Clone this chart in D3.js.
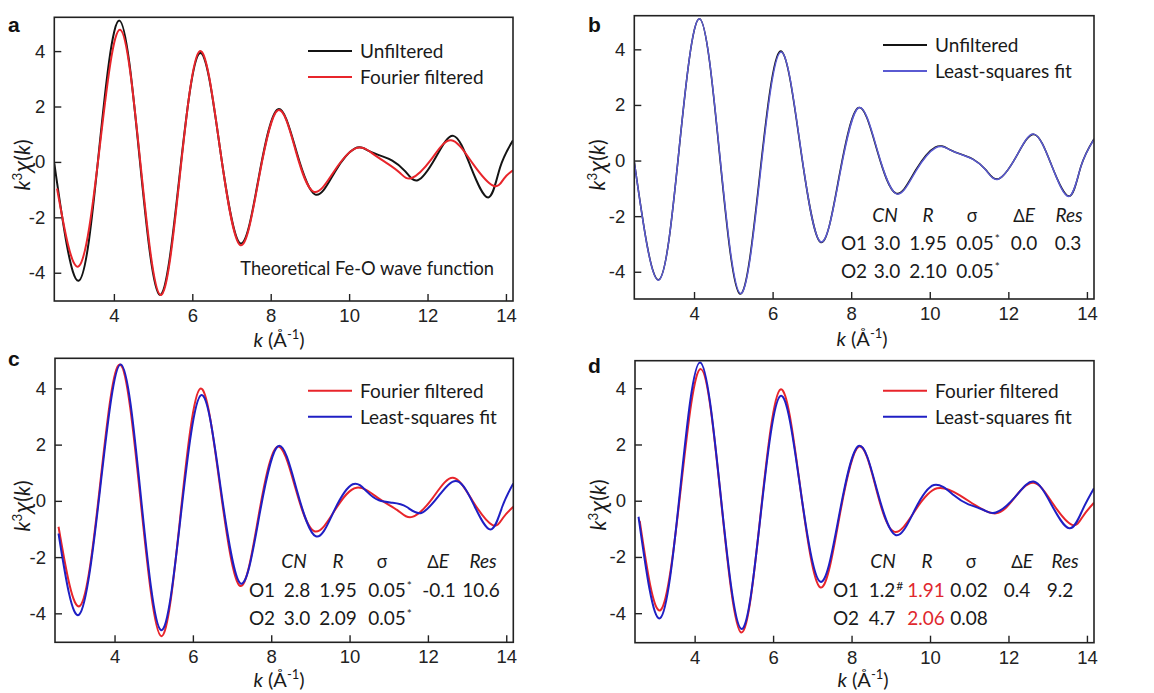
<!DOCTYPE html>
<html><head><meta charset="utf-8">
<script src="https://cdn.jsdelivr.net/npm/d3@7"></script>
<style>
body{margin:0;background:#fff;}
svg{display:block;}
</style></head><body>
<svg id="chart" width="1154" height="693"></svg>
<script>
// ---------------- data ----------------
const kDomain = [2.48, 14.18];
const kTicks = [4, 6, 8, 10, 12, 14];
const yTicks = [-4, -2, 0, 2, 4];

// panel a / b : unfiltered theoretical Fe-O wave function  [k, k^3 chi(k)]
const unfiltered = [[2.48,-0.05],[3.1,-4.29],[3.62,0.4],[4.14,5.1],[4.655,0.15],[5.17,-4.8],[5.68,-0.43],[6.19,3.93],[6.705,0.5],[7.22,-2.94],[7.7,-0.52],[8.18,1.9],[8.66,0.36],[9.14,-1.18],[9.64,-0.35],[10.14,0.48],[10.5,0.4],[10.85,0.2],[11.1,0.05],[11.42,-0.32],[11.75,-0.66],[12.2,0.14],[12.66,0.94],[13.1,-0.17],[13.55,-1.28],[13.85,-0.2],[14.18,0.78]];
// panel a : Fourier filtered
const filteredA = [[2.55,-0.96],[3.11,-3.76],[3.635,0.5],[4.16,4.77],[4.675,-0.02],[5.19,-4.8],[5.69,-0.4],[6.19,4.0],[6.705,0.5],[7.22,-3.0],[7.7,-0.57],[8.18,1.86],[8.64,0.39],[9.1,-1.08],[9.64,-0.29],[10.18,0.5],[10.6,0.3],[10.98,-0.06],[11.3,-0.4],[11.6,-0.58],[12.1,0.1],[12.6,0.78],[13.15,-0.05],[13.68,-0.86],[13.95,-0.6],[14.18,-0.3]];
// panel b : least-squares fit
const fitB = [[2.48,-0.06],[3.1,-4.3],[3.62,0.4],[4.14,5.1],[4.66,0.15],[5.18,-4.78],[5.69,-0.44],[6.2,3.9],[6.71,0.49],[7.22,-2.92],[7.71,-0.51],[8.19,1.9],[8.67,0.35],[9.15,-1.2],[9.65,-0.37],[10.15,0.46],[10.5,0.39],[10.85,0.19],[11.1,0.04],[11.42,-0.33],[11.74,-0.67],[12.2,0.14],[12.65,0.95],[13.1,-0.17],[13.54,-1.29],[13.85,-0.2],[14.18,0.76]];
// panel c
const filteredC = [[2.57,-0.92],[3.12,-3.73],[3.63,0.56],[4.14,4.85],[4.665,0.02],[5.19,-4.81],[5.69,-0.41],[6.19,3.99],[6.695,0.49],[7.2,-3.02],[7.675,-0.55],[8.15,1.92],[8.625,0.42],[9.1,-1.08],[9.64,-0.3],[10.18,0.47],[10.75,0.08],[11.22,-0.33],[11.6,-0.57],[12.12,0.1],[12.64,0.82],[13.15,-0.02],[13.65,-0.86],[13.92,-0.6],[14.18,-0.21]];
const fitC = [[2.57,-1.16],[3.1,-4.04],[3.63,0.4],[4.16,4.85],[4.675,0.12],[5.19,-4.6],[5.7,-0.42],[6.21,3.76],[6.715,0.41],[7.22,-2.94],[7.7,-0.5],[8.18,1.95],[8.66,0.35],[9.14,-1.26],[9.61,-0.34],[10.08,0.59],[10.45,0.32],[10.75,0.02],[11.1,-0.07],[11.45,-0.21],[11.83,-0.43],[12.29,0.2],[12.75,0.7],[13.18,-0.16],[13.6,-1.02],[13.9,-0.2],[14.18,0.62]];
// panel d
const filteredD = [[2.6,-0.72],[3.13,-3.89],[3.645,0.4],[4.16,4.68],[4.675,0.0],[5.19,-4.69],[5.69,-0.37],[6.19,3.96],[6.695,0.44],[7.2,-3.08],[7.69,-0.58],[8.18,1.92],[8.63,0.41],[9.08,-1.1],[9.63,-0.33],[10.18,0.44],[10.75,0.2],[11.14,-0.15],[11.68,-0.45],[12.14,0.08],[12.64,0.64],[13.13,-0.1],[13.62,-0.86],[13.9,-0.55],[14.18,-0.07]];
const fitD = [[2.57,-0.57],[3.12,-4.18],[3.63,0.37],[4.14,4.92],[4.665,0.18],[5.19,-4.56],[5.69,-0.42],[6.19,3.73],[6.695,0.43],[7.2,-2.88],[7.69,-0.47],[8.18,1.95],[8.65,0.37],[9.12,-1.22],[9.61,-0.33],[10.1,0.56],[10.6,0.2],[10.98,-0.13],[11.37,-0.33],[11.68,-0.42],[12.16,0.12],[12.64,0.68],[13.1,-0.15],[13.55,-0.98],[13.88,-0.35],[14.18,0.44]];

// fit tables
const tableHeaders = ["CN", "R", "σ", "ΔE", "Res"];
const tableB = [["O1","3.0","1.95","0.05*","0.0","0.3"],["O2","3.0","2.10","0.05*","",""]];
const tableC = [["O1","2.8","1.95","0.05*","-0.1","10.6"],["O2","3.0","2.09","0.05*","",""]];
const tableD = [["O1","1.2#","1.91","0.02","0.4","9.2"],["O2","4.7","2.06","0.08","",""]];

// ---------------- layout / style ----------------
const C_BLACK = "#141414", C_RED = "#e8252b", C_BLUE = "#1f1fc4", C_BLUE_B = "#5a5ad2";
const TXT = "Lato, 'Noto Sans', sans-serif";
const TICKF = "'Liberation Sans', Arial, sans-serif";
const FS = 19;

const panels = [
  {id:"a", l:54.3, t:17.3, r:513, b:301, yDomain:[-5.02,5.22],
   series:[{data:unfiltered,color:C_BLACK,w:2},{data:filteredA,color:C_RED,w:2}],
   legend:[["Unfiltered",C_BLACK],["Fourier filtered",C_RED]], legX:[308,352,360], legY:[51,77],
   letter:[8,32], ylab:[30,165], xlab:[279,347]},
  {id:"b", l:634.3, t:15.7, r:1094, b:299, yDomain:[-4.98,5.21],
   series:[{data:unfiltered,color:C_BLACK,w:1.6},{data:fitB,color:C_BLUE_B,w:1.5}],
   legend:[["Unfiltered",C_BLACK],["Least-squares fit",C_BLUE_B]], legX:[883,927,935], legY:[45,71],
   letter:[588,32], ylab:[605,165], xlab:[862,346],
   table:tableB, cols:[854,887,928,975,1024,1068], hdrX:[885,928,972,1024,1069], rowsY:[222,250,278]},
  {id:"c", l:55, t:358.3, r:513.3, b:642.3, yDomain:[-5.03,5.07],
   series:[{data:filteredC,color:C_RED,w:2},{data:fitC,color:C_BLUE,w:2}],
   legend:[["Fourier filtered",C_RED],["Least-squares fit",C_BLUE]], legX:[308,352,360], legY:[390.7,416.7],
   letter:[8,366], ylab:[30,506], xlab:[279,687],
   table:tableC, cols:[262,297,338,387,439,481], hdrX:[294,338,382,438,483], rowsY:[568,597,625]},
  {id:"d", l:635, t:360.7, r:1094, b:642.7, yDomain:[-5.05,4.98],
   series:[{data:filteredD,color:C_RED,w:2},{data:fitD,color:C_BLUE,w:2}],
   legend:[["Fourier filtered",C_RED],["Least-squares fit",C_BLUE]], legX:[883,927,935], legY:[390.7,416.7],
   letter:[588,373], ylab:[606,505], xlab:[863,687],
   table:tableD, cols:[846,882,926,969,1017,1060], hdrX:[883,927,971,1022,1065], rowsY:[568,597,625],
   redCells:["1.91","2.06"]}
];

const svg = d3.select("#chart");
const defs = svg.append("defs");

panels.forEach(p => {
  const g = svg.append("g");
  const x = d3.scaleLinear().domain(kDomain).range([p.l, p.r]);
  const y = d3.scaleLinear().domain(p.yDomain).range([p.b, p.t]);

  defs.append("clipPath").attr("id", "clip-" + p.id)
    .append("rect").attr("x", p.l).attr("y", p.t).attr("width", p.r - p.l).attr("height", p.b - p.t);

  const line = d3.line().x(d => x(d[0])).y(d => y(d[1])).curve(d3.curveNatural);
  p.series.forEach(s => {
    g.append("path").attr("d", line(s.data)).attr("fill", "none")
      .attr("stroke", s.color).attr("stroke-width", s.w)
      .attr("stroke-linejoin", "round").attr("clip-path", `url(#clip-${p.id})`);
  });

  // axes (inward ticks)
  const xa = g.append("g").attr("transform", `translate(0,${p.b})`)
    .call(d3.axisBottom(x).tickValues(kTicks).tickSizeInner(-7).tickSizeOuter(0).tickPadding(8).tickFormat(d3.format("d")));
  const ya = g.append("g").attr("transform", `translate(${p.l},0)`)
    .call(d3.axisLeft(y).tickValues(yTicks).tickSizeInner(-7).tickSizeOuter(0).tickPadding(9).tickFormat(d => d < 0 ? "-" + Math.abs(d) : d));
  [xa, ya].forEach(a => {
    a.select(".domain").remove();
    a.selectAll(".tick line").attr("stroke", "#222").attr("stroke-width", 1.4);
    a.selectAll(".tick text").attr("font-family", TICKF).attr("font-size", 18.5).attr("fill", "#222");
  });

  // frame
  g.append("rect").attr("x", p.l).attr("y", p.t).attr("width", p.r - p.l).attr("height", p.b - p.t)
    .attr("fill", "none").attr("stroke", "#222").attr("stroke-width", 1.6);

  // panel letter
  g.append("text").attr("x", p.letter[0]).attr("y", p.letter[1]).text(p.id)
    .attr("font-family", "'Liberation Sans', Arial, sans-serif").attr("font-weight", "bold")
    .attr("font-size", 21).attr("fill", "#111");

  // y label  k^3 chi(k)
  const yl = g.append("text").attr("transform", `translate(${p.ylab[0]},${p.ylab[1]}) rotate(-90)`)
    .attr("text-anchor", "middle").attr("font-family", TXT).attr("font-size", 21).attr("fill", "#1a1a1a");
  yl.append("tspan").attr("font-style", "italic").text("k");
  yl.append("tspan").attr("font-size", 13.5).attr("dy", -8).text("3");
  yl.append("tspan").attr("dy", 8).attr("font-style", "italic").attr("font-family", "'Noto Sans', sans-serif").text("χ");
  yl.append("tspan").text("(");
  yl.append("tspan").attr("font-style", "italic").text("k");
  yl.append("tspan").text(")");

  // x label  k (Å^-1)
  const xl = g.append("text").attr("x", p.xlab[0]).attr("y", p.xlab[1])
    .attr("text-anchor", "middle").attr("font-family", TXT).attr("font-size", 20).attr("fill", "#1a1a1a");
  xl.append("tspan").attr("font-style", "italic").text("k");
  xl.append("tspan").text(" (Å");
  xl.append("tspan").attr("font-size", 13).attr("dy", -8).text("-1");
  xl.append("tspan").attr("dy", 8).text(")");

  // legend
  p.legend.forEach((it, i) => {
    g.append("line").attr("x1", p.legX[0]).attr("x2", p.legX[1]).attr("y1", p.legY[i]).attr("y2", p.legY[i])
      .attr("stroke", it[1]).attr("stroke-width", 2);
    g.append("text").attr("x", p.legX[2]).attr("y", p.legY[i]).attr("dy", "0.36em").text(it[0])
      .attr("font-family", TXT).attr("font-size", FS).attr("fill", "#1a1a1a");
  });

  // table
  if (p.table) {
    tableHeaders.forEach((h, j) => {
      const t = g.append("text").attr("x", p.hdrX[j]).attr("y", p.rowsY[0]).attr("text-anchor", "middle")
        .attr("font-family", TXT).attr("font-size", FS).attr("fill", "#1a1a1a");
      if (h === "σ") t.append("tspan").attr("font-family", "'Noto Sans', sans-serif").attr("font-size", 18).text("σ");
      else if (h === "ΔE") { t.append("tspan").attr("font-family", "'Noto Sans', sans-serif").attr("font-size", 18).text("Δ"); t.append("tspan").attr("font-style", "italic").text("E"); }
      else t.append("tspan").attr("font-style", "italic").text(h);
    });
    p.table.forEach((row, r) => {
      row.forEach((cell, j) => {
        if (!cell) return;
        const sup = /[*#]$/.test(cell) ? cell.slice(-1) : null;
        const main = sup ? cell.slice(0, -1) : cell;
        const red = p.redCells && p.redCells.includes(main);
        const t = g.append("text").attr("x", p.cols[j]).attr("y", p.rowsY[r + 1]).attr("text-anchor", "middle")
          .attr("font-family", TXT).attr("font-size", FS).attr("fill", red ? "#e0282e" : "#1a1a1a");
        t.append("tspan").text(main);
        if (sup) {
          g.append("text").attr("x", p.cols[j]).attr("y", p.rowsY[r + 1] - 7)
            .attr("dx", t.node().getComputedTextLength() / 2 + 1)
            .attr("font-family", TXT).attr("font-size", 12).attr("fill", "#1a1a1a").text(sup);
        }
      });
    });
  }

  if (p.id === "a") {
    g.append("text").attr("x", 494).attr("y", 275).attr("text-anchor", "end")
      .text("Theoretical Fe-O wave function").attr("font-family", TXT).attr("font-size", 18.3).attr("fill", "#1a1a1a");
  }
});
</script>
</body></html>
